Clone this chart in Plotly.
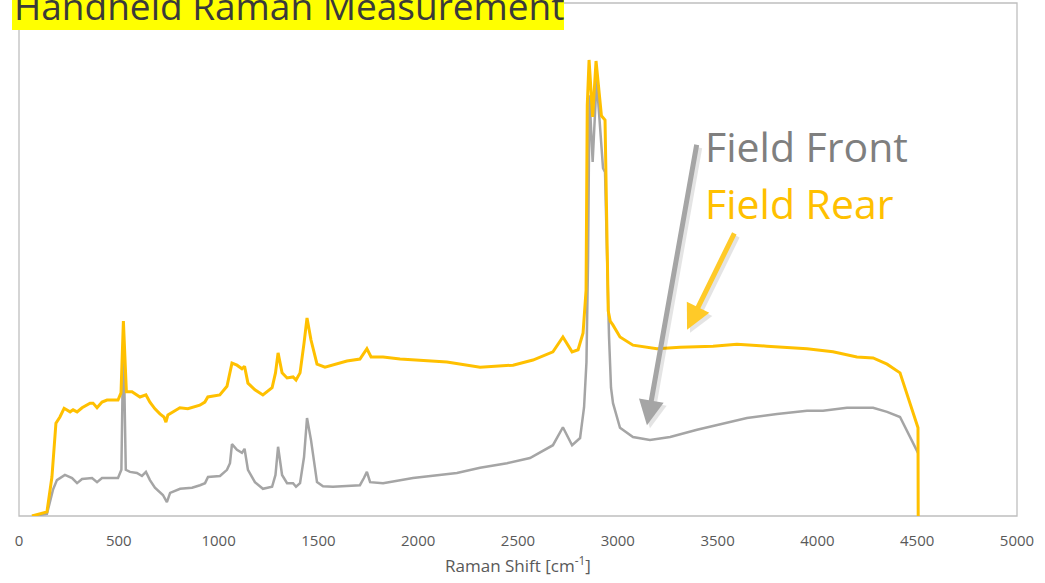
import plotly.graph_objects as go

# Raman spectra (arbitrary intensity units, 0-100 scale)
front_shift = [65, 140, 170, 190, 230, 266, 291, 316, 366, 391, 416, 496, 513, 523, 535,
               556, 591, 616, 636, 656, 681, 721, 741, 757, 807, 867, 907, 932, 947, 1007,
               1042, 1057, 1067, 1092, 1117, 1130, 1147, 1182, 1222, 1268, 1285, 1298, 1318,
               1343, 1373, 1388, 1408, 1428, 1443, 1463, 1493, 1523, 1573, 1708, 1728, 1743,
               1759, 1824, 1974, 2194, 2310, 2445, 2560, 2675, 2725, 2771, 2811, 2831, 2843,
               2851, 2858, 2874, 2894, 2926, 2936, 2948, 2956, 2966, 2976, 3011, 3076, 3161,
               3262, 3397, 3562, 3647, 3798, 3948, 4028, 4148, 4279, 4349, 4414, 4504]
front_intensity = [0.0, 0.4, 5.1, 7.0, 8.0, 7.4, 6.4, 7.2, 7.4, 6.6, 7.4, 7.4, 9.0, 36.0, 9.0,
                   8.6, 8.4, 7.8, 8.6, 7.0, 5.5, 4.1, 2.7, 4.5, 5.3, 5.5, 6.0, 6.4, 7.6, 7.8,
                   9.0, 10.3, 14.0, 12.9, 12.3, 13.1, 9.0, 6.6, 5.3, 5.7, 8.0, 13.5, 8.0,
                   6.4, 6.4, 5.7, 6.4, 11.5, 19.1, 14.8, 6.6, 5.8, 5.7, 6.0, 7.4, 8.6,
                   6.6, 6.4, 7.4, 8.4, 9.4, 10.3, 11.3, 13.8, 17.3, 13.8, 15.2, 21.2, 30.0,
                   50.0, 82.0, 69.0, 85.0, 67.8, 67.0, 45.0, 35.0, 25.0, 22.0, 17.2, 15.4, 14.8,
                   15.4, 16.8, 18.3, 19.1, 19.9, 20.5, 20.5, 21.1, 21.1, 20.3, 19.3, 12.3]

rear_shift = [65, 140, 165, 185, 205, 226, 256, 271, 291, 316, 356, 371, 391, 416, 441, 496,
              511, 523, 538, 566, 606, 636, 656, 681, 706, 726, 736, 746, 806, 846, 906, 931,
              946, 1006, 1042, 1057, 1067, 1092, 1117, 1130, 1147, 1182, 1222, 1268, 1285,
              1298, 1318, 1343, 1373, 1388, 1408, 1428, 1443, 1463, 1493, 1533, 1573, 1643,
              1708, 1728, 1743, 1764, 1824, 1909, 1974, 2144, 2310, 2475, 2575, 2675, 2725,
              2771, 2801, 2826, 2841, 2847, 2856, 2874, 2891, 2918, 2936, 2945, 2952, 2962,
              2976, 3011, 3076, 3196, 3312, 3477, 3597, 3747, 3948, 4078, 4198, 4279, 4349,
              4414, 4504, 4505]
rear_intensity = [0.0, 0.8, 7.6, 18.1, 19.3, 21.0, 20.3, 20.7, 20.3, 21.1, 22.0, 22.0, 21.1,
                  22.2, 22.6, 22.6, 24.0, 38.0, 24.2, 24.2, 23.2, 23.6, 22.2, 20.9, 19.9, 19.3,
                  18.3, 19.7, 21.1, 20.9, 21.6, 22.2, 23.2, 23.6, 25.3, 28.1, 29.8, 29.4, 28.7,
                  29.2, 25.9, 24.6, 23.6, 25.0, 27.9, 31.8, 27.9, 26.9, 27.1, 26.5, 27.9, 33.7,
                  38.6, 34.3, 29.6, 29.0, 29.4, 30.2, 30.6, 31.8, 32.6, 31.0, 31.0, 30.6, 30.4,
                  30.0, 29.0, 29.4, 30.4, 32.0, 34.9, 32.0, 32.4, 35.7, 44.0, 80.0, 88.9, 77.8,
                  88.7, 78.0, 77.2, 50.0, 40.0, 38.0, 37.2, 34.9, 33.3, 32.6, 32.9, 33.1, 33.5,
                  33.1, 32.6, 32.0, 31.0, 30.8, 29.6, 27.9, 17.2, 0.0]

x_ticks = [0, 500, 1000, 1500, 2000, 2500, 3000, 3500, 4000, 4500, 5000]

GRAY = "#A5A5A5"
GOLD = "#FFC000"
FONT = "Open Sans"

fig = go.Figure()
fig.add_trace(go.Scatter(x=front_shift, y=front_intensity, mode="lines", name="Field Front",
                         line=dict(color=GRAY, width=2.5)))
fig.add_trace(go.Scatter(x=rear_shift, y=rear_intensity, mode="lines", name="Field Rear",
                         line=dict(color=GOLD, width=3)))

# plot frame
fig.add_shape(type="rect", xref="paper", yref="paper", x0=0, x1=1, y0=0, y1=1,
              line=dict(color="#BFBFBF", width=1.3), layer="below")

# helpers: pixel position -> paper fraction of the plot area
def px_x(p):
    return (p - 19) / 998.0

def px_y(p):
    return (516 - p) / 513.0

# title highlight band (runs off the top edge)
fig.add_shape(type="rect", xref="paper", yref="paper", x0=px_x(12), x1=px_x(564),
              y0=px_y(30), y1=px_y(-20), fillcolor="#FFFF00", line=dict(width=0), layer="above")
fig.add_annotation(text="Handheld Raman Measurement", xref="paper", yref="paper",
                   x=px_x(12), y=px_y(33), xanchor="left", yanchor="bottom", showarrow=False,
                   font=dict(family=FONT, size=37, color="#3A3A3A"))

# series labels
fig.add_annotation(text="Field Front", xref="paper", yref="paper", x=px_x(703), y=px_y(146),
                   xanchor="left", yanchor="middle", showarrow=False,
                   font=dict(family=FONT, size=41, color="#7F7F7F"))
fig.add_annotation(text="Field Rear", xref="paper", yref="paper", x=px_x(703), y=px_y(203),
                   xanchor="left", yanchor="middle", showarrow=False,
                   font=dict(family=FONT, size=41, color=GOLD))

# pointer arrows with a soft drop shadow
arrows = [
    (3146, 17.7, 50, -282, GRAY),
    (3347, 36.3, 48, -98, "#FFCA28"),
]
for ax_x, ax_y, dx, dy, col in arrows:
    fig.add_annotation(x=ax_x + 15, y=ax_y - 0.6, ax=dx, ay=dy, text="", showarrow=True,
                       arrowhead=2, arrowsize=1.0, arrowwidth=5, arrowcolor="rgba(0,0,0,0.10)")
    fig.add_annotation(x=ax_x, y=ax_y, ax=dx, ay=dy, text="", showarrow=True,
                       arrowhead=2, arrowsize=1.0, arrowwidth=5, arrowcolor=col)

fig.update_layout(
    width=1045, height=583,
    margin=dict(l=19, r=28, t=3, b=67),
    paper_bgcolor="white", plot_bgcolor="white",
    showlegend=False,
    font=dict(family=FONT, color="#595959"),
    xaxis=dict(range=[0, 5000], tickvals=x_ticks, ticktext=[str(v) for v in x_ticks],
               showgrid=False, zeroline=False, showline=False, ticks="",
               tickfont=dict(size=15, color="#595959"), ticklabelstandoff=14,
               title=dict(text="Raman Shift [cm<sup>-1</sup>]", standoff=11,
                          font=dict(size=17, color="#595959"))),
    yaxis=dict(range=[0, 100], showticklabels=False, showgrid=False, zeroline=False,
               showline=False, ticks=""),
)

fig.write_html("out.html")
